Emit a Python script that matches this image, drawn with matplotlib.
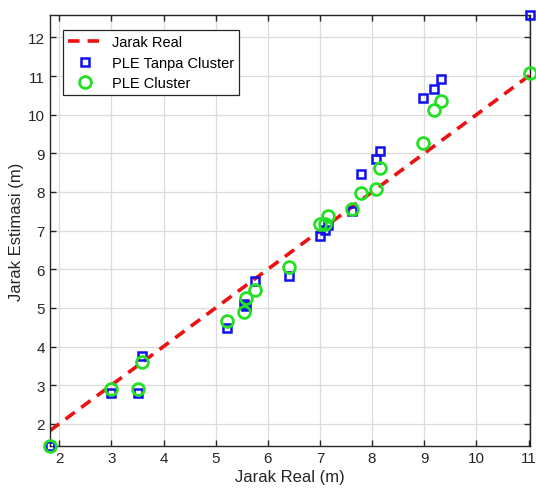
import matplotlib
matplotlib.use("Agg")
import matplotlib.pyplot as plt

# real distance (m) and estimates from the two PLE variants
jarak_real = [1.82, 3.00, 3.52, 3.58, 5.22, 5.55, 5.59, 5.75, 6.40, 7.00,
              7.09, 7.15, 7.61, 7.78, 8.07, 8.16, 8.98, 9.19, 9.33, 11.03]
ple_tanpa_cluster = [1.43, 2.80, 2.80, 3.75, 4.49, 5.10, 5.05, 5.69, 5.82, 6.85,
                     7.01, 7.14, 7.50, 8.46, 8.85, 9.06, 10.44, 10.67, 10.93, 12.58]
ple_cluster = [1.43, 2.89, 2.89, 3.61, 4.67, 4.89, 5.26, 5.47, 6.07, 7.18,
               7.18, 7.37, 7.56, 7.97, 8.07, 8.63, 9.28, 10.11, 10.36, 11.09]

x_ticks = list(range(2, 12))
y_ticks = list(range(2, 13))

plt.rcParams["font.family"] = ["Liberation Sans", "DejaVu Sans"]

fig = plt.figure(figsize=(5.36, 5.02), dpi=100)
ax = fig.add_axes([0.093, 0.110, 0.896, 0.858])

ax.plot(jarak_real, jarak_real, color="#ee1111", linestyle=(0, (3.2, 2.2)),
        linewidth=2.6, label="Jarak Real", zorder=2)
ax.plot(jarak_real, ple_tanpa_cluster, linestyle="none", marker="s",
        markersize=6.2, markerfacecolor="none", markeredgecolor="#1010ee",
        markeredgewidth=1.8, label="PLE Tanpa Cluster", clip_on=False, zorder=3)
ax.plot(jarak_real, ple_cluster, linestyle="none", marker="o",
        markersize=8.5, markerfacecolor="none", markeredgecolor="#22e022",
        markeredgewidth=2.0, label="PLE Cluster", clip_on=False, zorder=4)

ax.set_xlim(min(jarak_real), max(jarak_real))
ax.set_ylim(min(ple_tanpa_cluster), max(ple_tanpa_cluster))
ax.set_xticks(x_ticks)
ax.set_yticks(y_ticks)
ax.tick_params(direction="in", length=4, width=1.0, labelsize=11,
               top=True, right=True, colors="#262626")
ax.grid(True, color="#dcdcdc", linewidth=0.9)
ax.set_axisbelow(True)
for s in ax.spines.values():
    s.set_color("#262626")
    s.set_linewidth(1.0)

ax.set_xlabel("Jarak Real (m)", fontsize=12, color="#262626", labelpad=3)
ax.set_ylabel("Jarak Estimasi (m)", fontsize=12, color="#262626", labelpad=3)

leg = ax.legend(loc="upper left", fontsize=10.5, fancybox=False, framealpha=1,
                edgecolor="#262626", borderpad=0.35, handlelength=2.4,
                handletextpad=0.6, borderaxespad=0,
                bbox_to_anchor=(0.027, 0.965), labelspacing=0.45)
leg.get_frame().set_linewidth(0.9)

fig.savefig("out.png", dpi=100)
